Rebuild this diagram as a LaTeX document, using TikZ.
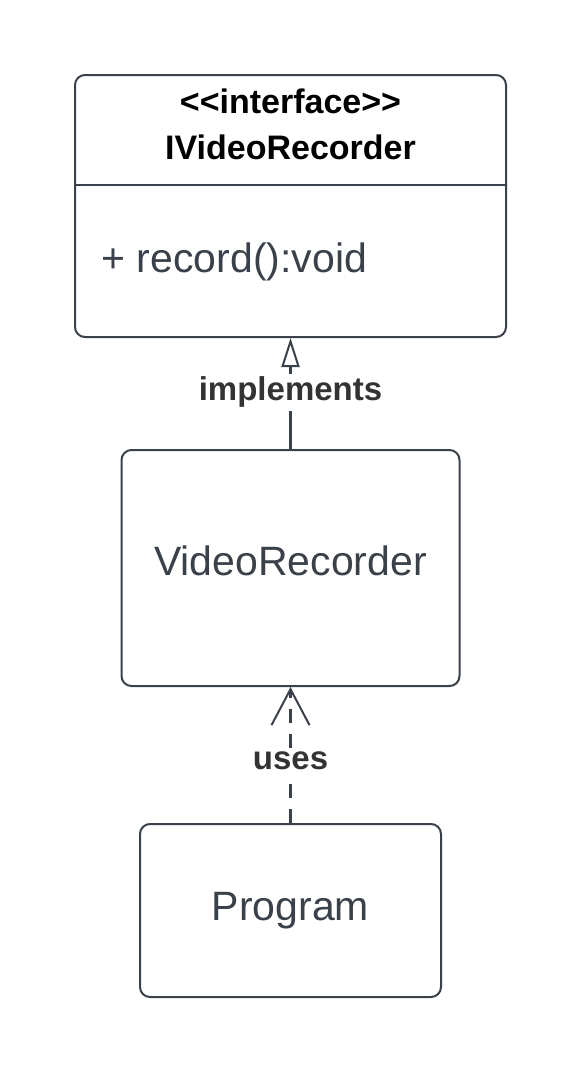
\documentclass[tikz,border=0pt]{standalone}
\usepackage{fontspec}
\setmainfont{Liberation Sans}
\usetikzlibrary{
arrows.meta,
positioning
}
\definecolor{lucidline}{RGB}{58,65,74}
\definecolor{labelgray}{RGB}{51,51,51}

\begin{document}
\begin{tikzpicture}
[x=1pt, y=-1pt,
block_normal/.style ={rectangle, draw=lucidline, line width=2pt, fill=white, rounded corners=10pt, text=lucidline, font=\fontsize{41}{48}\selectfont, inner sep=0pt},
head_text/.style ={font=\bfseries\fontsize{34}{40}\selectfont, text=black, anchor=base},
rel_label/.style ={font=\bfseries\fontsize{33}{40}\selectfont, text=labelgray, fill=white, inner sep=3pt, anchor=base},
line_real/.style ={draw=lucidline, line width=2.5pt, -{Triangle[length=29pt, width=18pt, fill=white, line width=2pt]}},
line_uses/.style ={draw=lucidline, line width=2.5pt, dash pattern=on 14pt off 11pt, -{Straight Barb[length=36pt, width=38pt, line width=2pt]}}
]

\useasboundingbox (0,0) rectangle (581,1073);

%Klassen
\node [block_normal, minimum width=431pt, minimum height=262pt] (iface) at (290.5,206) {};
\node [block_normal, minimum width=338pt, minimum height=236pt, text depth=15pt, below=111pt of iface] (recorder) {VideoRecorder};
\node [block_normal, minimum width=301pt, minimum height=173pt, below=136pt of recorder] (program) {Program};

%Interface Kopf und Methode
\node [head_text] (stereo) at (290.5,113) {<\kern0pt<interface>\kern0pt>};
\node [head_text] (ifname) at (290.5,159) {IVideoRecorder};
\draw [draw=lucidline, line width=2pt] (iface.west |- 0,185) -- (iface.east |- 0,185);
\node [anchor=base west, text=lucidline, font=\fontsize{41}{48}\selectfont] (method) at (98,272) {+ record():void};

%Pfeile
\draw [line_real] (recorder) -- node [rel_label, pos=0.434] (impl) {implements} (iface);
\draw [line_uses] (program) -- node [rel_label, pos=0.39] (uses) {uses} (recorder);

\end{tikzpicture}
\end{document}
